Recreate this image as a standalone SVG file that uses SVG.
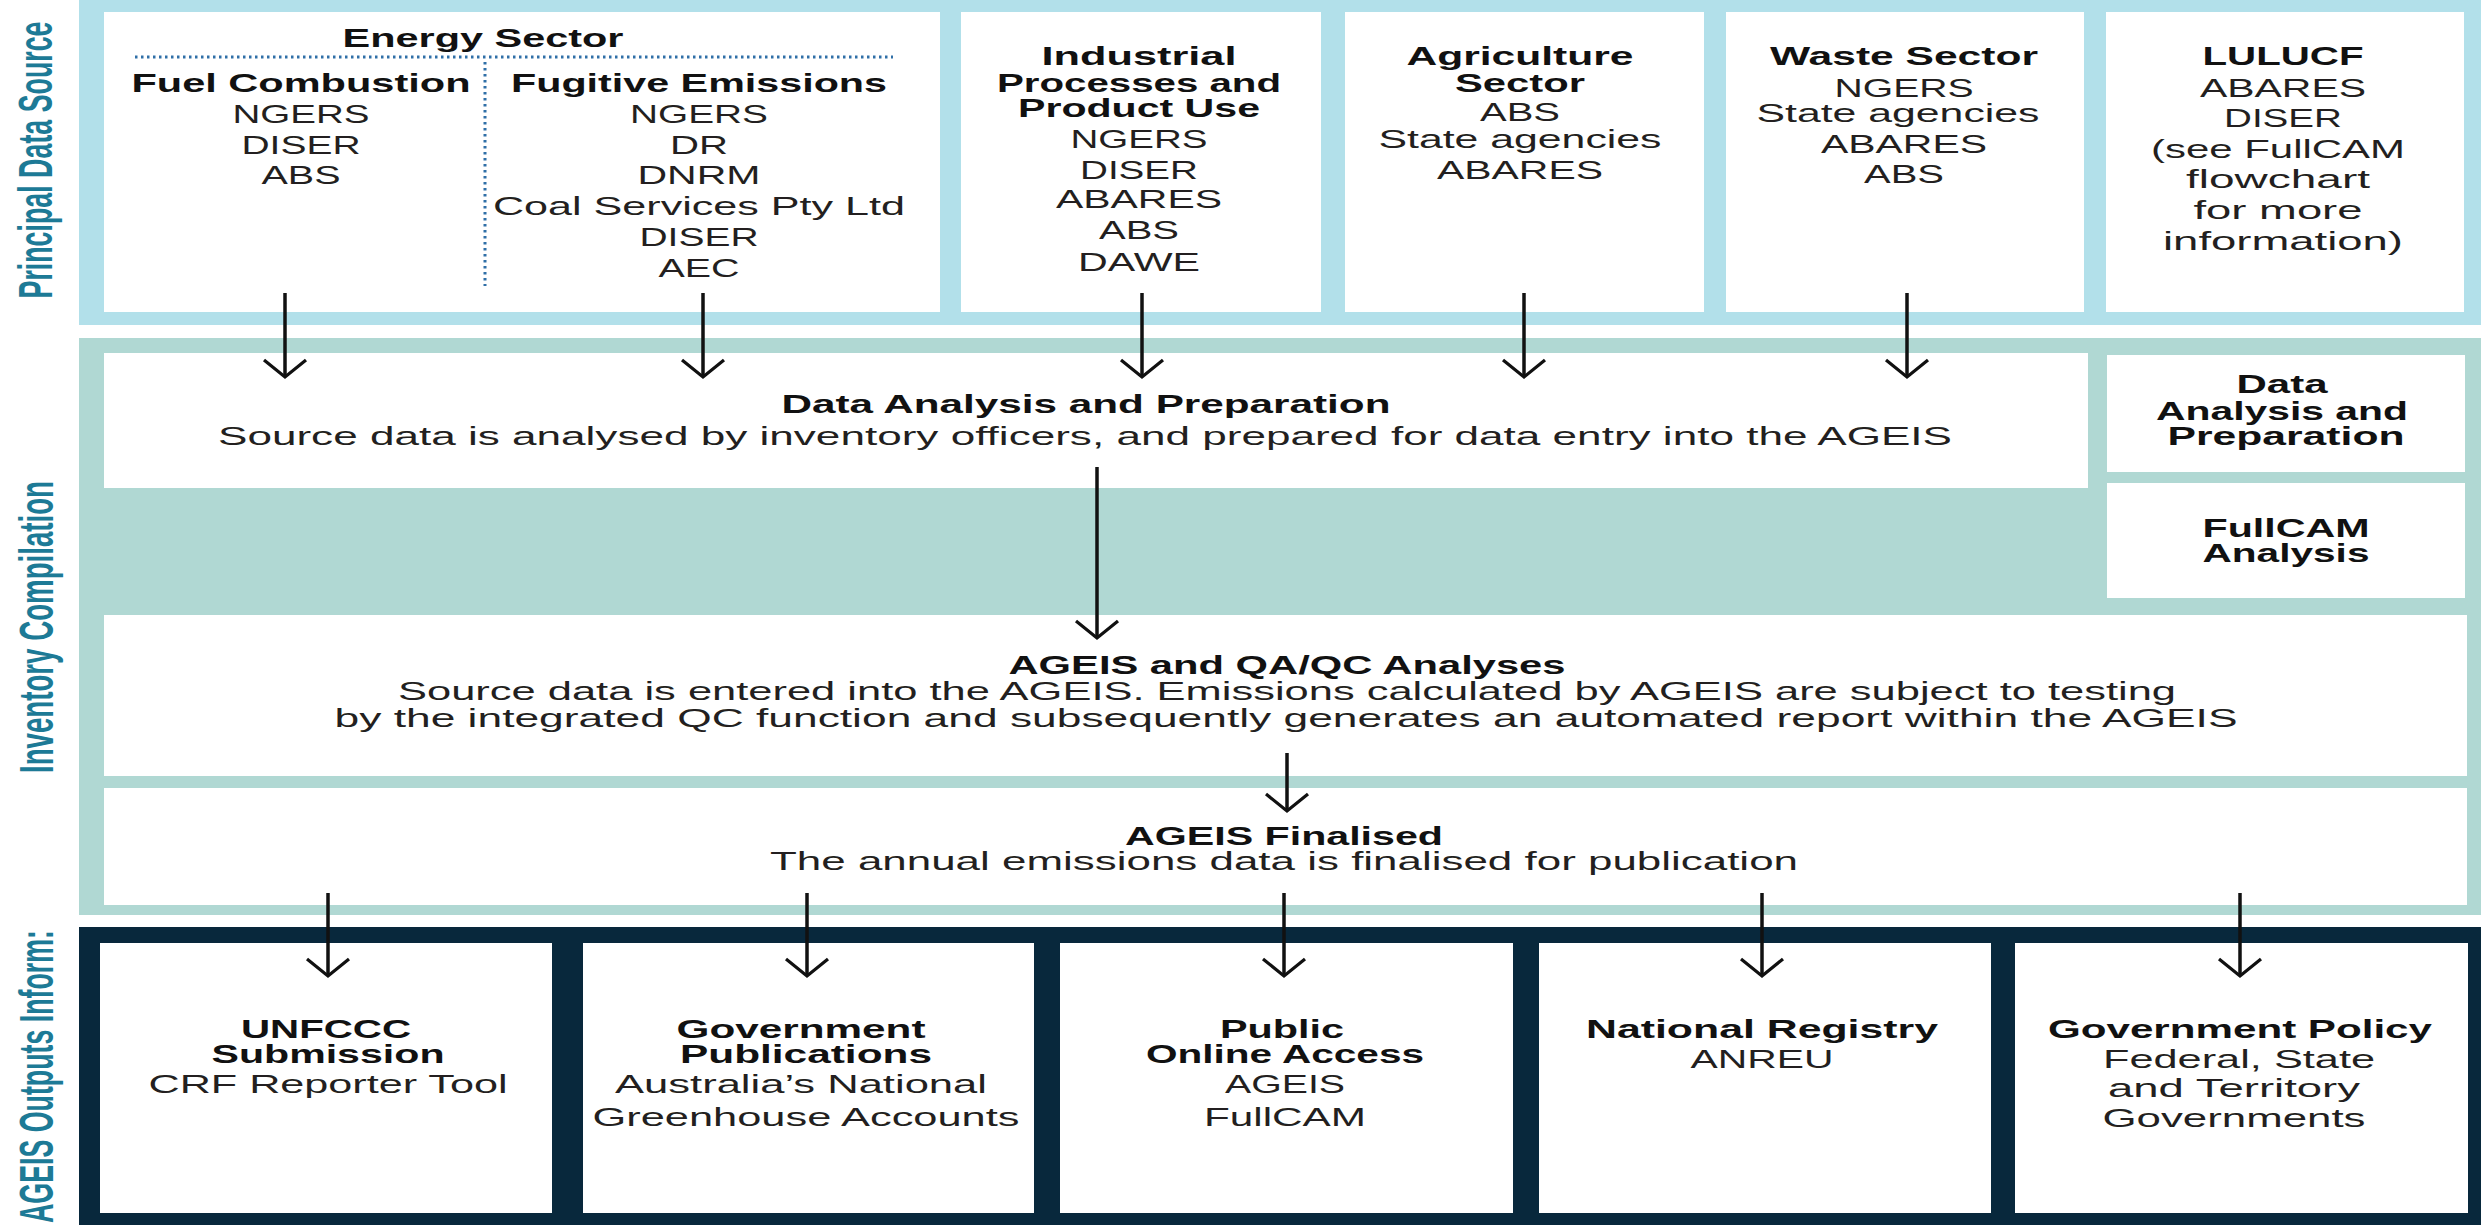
<svg xmlns="http://www.w3.org/2000/svg" width="2481" height="1225" viewBox="0 0 2481 1225">
<style>
text{font-family:"Liberation Sans",Arial,sans-serif;font-size:25px;fill:#231f20;text-anchor:middle}
.b{font-weight:bold;fill:#111}
.side{font-weight:bold;font-size:24px;fill:#1d7a96}
.box{fill:#fff}
.con{stroke:#111;stroke-width:3.5;fill:none}
.dot{stroke:#2f6fa7;stroke-width:3;stroke-dasharray:2.5 3.5;fill:none}
</style>
<defs>
<marker id="ah" markerUnits="userSpaceOnUse" viewBox="-24 -26 28 52" refX="0" refY="0" markerWidth="28" markerHeight="52" orient="auto" overflow="visible">
<path d="M-17,-21 L0,0 L-17,21" fill="none" stroke="#111" stroke-width="3.2"/>
</marker>
</defs>

<!-- bands -->
<rect id="band-source" x="79" y="0" width="2402" height="325" fill="#b2e0ea"/>
<rect id="band-compilation" x="79" y="338" width="2402" height="577" fill="#b0d8d3"/>
<rect id="band-outputs" x="79" y="927" width="2402" height="298" fill="#08283c"/>

<text class="side" transform="translate(52,160) rotate(-90) scale(1,2)" textLength="277" lengthAdjust="spacingAndGlyphs">Principal Data Source</text>
<text class="side" transform="translate(53,627) rotate(-90) scale(1,2)" textLength="292" lengthAdjust="spacingAndGlyphs">Inventory Compilation</text>
<text class="side" transform="translate(53,1223) rotate(-90) scale(1,2)" style="text-anchor:start" textLength="293" lengthAdjust="spacingAndGlyphs">AGEIS Outputs Inform:</text>

<!-- Energy sector -->
<g id="energy">
<rect class="box" x="104" y="12" width="836" height="300"/>
<line class="dot" x1="135" y1="57" x2="893" y2="57"/>
<line class="dot" x1="485" y1="62" x2="485" y2="286"/>
<text class="b" x="483" y="47" textLength="281" lengthAdjust="spacingAndGlyphs">Energy Sector</text>
<text class="b" x="301" y="92" textLength="339" lengthAdjust="spacingAndGlyphs">Fuel Combustion</text>
<text class="b" x="699" y="92" textLength="376" lengthAdjust="spacingAndGlyphs">Fugitive Emissions</text>
<text x="301" y="123" textLength="137" lengthAdjust="spacingAndGlyphs">NGERS</text>
<text x="301" y="154" textLength="119" lengthAdjust="spacingAndGlyphs">DISER</text>
<text x="301" y="184" textLength="79" lengthAdjust="spacingAndGlyphs">ABS</text>
<text x="699" y="123" textLength="138" lengthAdjust="spacingAndGlyphs">NGERS</text>
<text x="699" y="154" textLength="58" lengthAdjust="spacingAndGlyphs">DR</text>
<text x="699" y="184" textLength="123" lengthAdjust="spacingAndGlyphs">DNRM</text>
<text x="699" y="215" textLength="412" lengthAdjust="spacingAndGlyphs">Coal Services Pty Ltd</text>
<text x="699" y="246" textLength="119" lengthAdjust="spacingAndGlyphs">DISER</text>
<text x="699" y="277" textLength="81" lengthAdjust="spacingAndGlyphs">AEC</text>
</g>

<g id="ippu">
<rect class="box" x="961" y="12" width="360" height="300"/>
<text class="b" x="1139" y="65" textLength="195" lengthAdjust="spacingAndGlyphs">Industrial</text>
<text class="b" x="1139" y="92" textLength="284" lengthAdjust="spacingAndGlyphs">Processes and</text>
<text class="b" x="1139" y="117" textLength="242" lengthAdjust="spacingAndGlyphs">Product Use</text>
<text x="1139" y="148" textLength="137" lengthAdjust="spacingAndGlyphs">NGERS</text>
<text x="1139" y="179" textLength="118" lengthAdjust="spacingAndGlyphs">DISER</text>
<text x="1139" y="208" textLength="166" lengthAdjust="spacingAndGlyphs">ABARES</text>
<text x="1139" y="239" textLength="80" lengthAdjust="spacingAndGlyphs">ABS</text>
<text x="1139" y="271" textLength="122" lengthAdjust="spacingAndGlyphs">DAWE</text>
</g>

<g id="agriculture">
<rect class="box" x="1345" y="12" width="359" height="300"/>
<text class="b" x="1520" y="65" textLength="227" lengthAdjust="spacingAndGlyphs">Agriculture</text>
<text class="b" x="1520" y="92" textLength="130" lengthAdjust="spacingAndGlyphs">Sector</text>
<text x="1520" y="121" textLength="80" lengthAdjust="spacingAndGlyphs">ABS</text>
<text x="1520" y="148" textLength="283" lengthAdjust="spacingAndGlyphs">State agencies</text>
<text x="1520" y="179" textLength="166" lengthAdjust="spacingAndGlyphs">ABARES</text>
</g>

<g id="waste">
<rect class="box" x="1726" y="12" width="358" height="300"/>
<text class="b" x="1904" y="65" textLength="268" lengthAdjust="spacingAndGlyphs">Waste Sector</text>
<text x="1904" y="97" textLength="139" lengthAdjust="spacingAndGlyphs">NGERS</text>
<text x="1898" y="122" textLength="283" lengthAdjust="spacingAndGlyphs">State agencies</text>
<text x="1904" y="153" textLength="166" lengthAdjust="spacingAndGlyphs">ABARES</text>
<text x="1904" y="183" textLength="80" lengthAdjust="spacingAndGlyphs">ABS</text>
</g>

<g id="lulucf">
<rect class="box" x="2106" y="12" width="358" height="300"/>
<text class="b" x="2283" y="65" textLength="161" lengthAdjust="spacingAndGlyphs">LULUCF</text>
<text x="2283" y="97" textLength="166" lengthAdjust="spacingAndGlyphs">ABARES</text>
<text x="2283" y="127" textLength="118" lengthAdjust="spacingAndGlyphs">DISER</text>
<text x="2278" y="158" textLength="254" lengthAdjust="spacingAndGlyphs">(see FullCAM</text>
<text x="2278" y="188" textLength="184" lengthAdjust="spacingAndGlyphs">flowchart</text>
<text x="2278" y="219" textLength="169" lengthAdjust="spacingAndGlyphs">for more</text>
<text x="2283" y="250" textLength="240" lengthAdjust="spacingAndGlyphs">information)</text>
</g>

<!-- compilation -->
<g id="data-analysis">
<rect class="box" x="104" y="353" width="1984" height="135"/>
<text class="b" x="1086" y="413" textLength="609" lengthAdjust="spacingAndGlyphs">Data Analysis and Preparation</text>
<text x="1085" y="445" textLength="1734" lengthAdjust="spacingAndGlyphs">Source data is analysed by inventory officers, and prepared for data entry into the AGEIS</text>
</g>

<g id="lulucf-data-analysis">
<rect class="box" x="2107" y="355" width="358" height="117"/>
<text class="b" x="2282" y="393" textLength="91" lengthAdjust="spacingAndGlyphs">Data</text>
<text class="b" x="2282" y="420" textLength="252" lengthAdjust="spacingAndGlyphs">Analysis and</text>
<text class="b" x="2286" y="445" textLength="237" lengthAdjust="spacingAndGlyphs">Preparation</text>
</g>

<g id="fullcam-analysis">
<rect class="box" x="2107" y="483" width="358" height="115"/>
<text class="b" x="2286" y="537" textLength="167" lengthAdjust="spacingAndGlyphs">FullCAM</text>
<text class="b" x="2286" y="562" textLength="167" lengthAdjust="spacingAndGlyphs">Analysis</text>
</g>

<g id="ageis-qaqc">
<rect class="box" x="104" y="615" width="2363" height="161"/>
<text class="b" x="1287" y="674" textLength="557" lengthAdjust="spacingAndGlyphs">AGEIS and QA/QC Analyses</text>
<text x="1287" y="700" textLength="1778" lengthAdjust="spacingAndGlyphs">Source data is entered into the AGEIS. Emissions calculated by AGEIS are subject to testing</text>
<text x="1286" y="727" textLength="1903" lengthAdjust="spacingAndGlyphs">by the integrated QC function and subsequently generates an automated report within the AGEIS</text>
</g>

<g id="ageis-finalised">
<rect class="box" x="104" y="788" width="2363" height="117"/>
<text class="b" x="1284" y="845" textLength="318" lengthAdjust="spacingAndGlyphs">AGEIS Finalised</text>
<text x="1284" y="870" textLength="1028" lengthAdjust="spacingAndGlyphs">The annual emissions data is finalised for publication</text>
</g>

<!-- outputs -->
<g id="unfccc">
<rect class="box" x="100" y="943" width="452" height="270"/>
<text class="b" x="326" y="1038" textLength="170" lengthAdjust="spacingAndGlyphs">UNFCCC</text>
<text class="b" x="328" y="1063" textLength="233" lengthAdjust="spacingAndGlyphs">Submission</text>
<text x="328" y="1093" textLength="359" lengthAdjust="spacingAndGlyphs">CRF Reporter Tool</text>
</g>

<g id="gov-publications">
<rect class="box" x="583" y="943" width="451" height="270"/>
<text class="b" x="801" y="1038" textLength="249" lengthAdjust="spacingAndGlyphs">Government</text>
<text class="b" x="806" y="1063" textLength="252" lengthAdjust="spacingAndGlyphs">Publications</text>
<text x="801" y="1093" textLength="372" lengthAdjust="spacingAndGlyphs">Australia’s National</text>
<text x="806" y="1126" textLength="427" lengthAdjust="spacingAndGlyphs">Greenhouse Accounts</text>
</g>

<g id="public-access">
<rect class="box" x="1060" y="943" width="453" height="270"/>
<text class="b" x="1282" y="1038" textLength="124" lengthAdjust="spacingAndGlyphs">Public</text>
<text class="b" x="1285" y="1063" textLength="278" lengthAdjust="spacingAndGlyphs">Online Access</text>
<text x="1285" y="1093" textLength="120" lengthAdjust="spacingAndGlyphs">AGEIS</text>
<text x="1285" y="1126" textLength="162" lengthAdjust="spacingAndGlyphs">FullCAM</text>
</g>

<g id="national-registry">
<rect class="box" x="1539" y="943" width="452" height="270"/>
<text class="b" x="1762" y="1038" textLength="352" lengthAdjust="spacingAndGlyphs">National Registry</text>
<text x="1762" y="1068" textLength="143" lengthAdjust="spacingAndGlyphs">ANREU</text>
</g>

<g id="gov-policy">
<rect class="box" x="2015" y="943" width="453" height="270"/>
<text class="b" x="2240" y="1038" textLength="384" lengthAdjust="spacingAndGlyphs">Government Policy</text>
<text x="2239" y="1068" textLength="272" lengthAdjust="spacingAndGlyphs">Federal, State</text>
<text x="2234" y="1097" textLength="252" lengthAdjust="spacingAndGlyphs">and Territory</text>
<text x="2234" y="1127" textLength="263" lengthAdjust="spacingAndGlyphs">Governments</text>
</g>

<g id="connectors">
<line class="con" x1="285" y1="293" x2="285" y2="377" marker-end="url(#ah)"/>
<line class="con" x1="703" y1="293" x2="703" y2="377" marker-end="url(#ah)"/>
<line class="con" x1="1142" y1="293" x2="1142" y2="377" marker-end="url(#ah)"/>
<line class="con" x1="1524" y1="293" x2="1524" y2="377" marker-end="url(#ah)"/>
<line class="con" x1="1907" y1="293" x2="1907" y2="377" marker-end="url(#ah)"/>
<line class="con" x1="1097" y1="467" x2="1097" y2="638" marker-end="url(#ah)"/>
<line class="con" x1="1287" y1="753" x2="1287" y2="811" marker-end="url(#ah)"/>
<line class="con" x1="328" y1="893" x2="328" y2="976" marker-end="url(#ah)"/>
<line class="con" x1="807" y1="893" x2="807" y2="976" marker-end="url(#ah)"/>
<line class="con" x1="1284" y1="893" x2="1284" y2="976" marker-end="url(#ah)"/>
<line class="con" x1="1762" y1="893" x2="1762" y2="976" marker-end="url(#ah)"/>
<line class="con" x1="2240" y1="893" x2="2240" y2="976" marker-end="url(#ah)"/>
</g>
</svg>
